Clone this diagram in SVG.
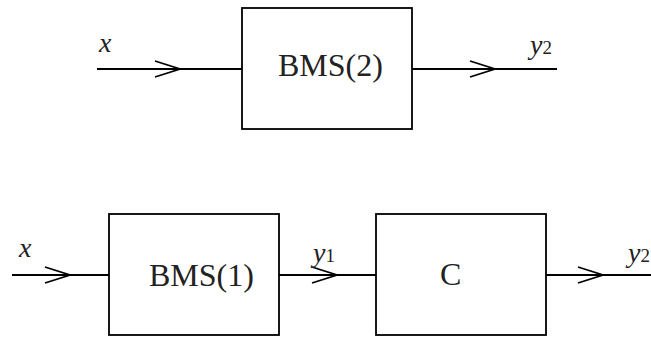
<svg xmlns="http://www.w3.org/2000/svg" xmlns:xlink="http://www.w3.org/1999/xlink" width="651" height="339" viewBox="0 0 651 339">
<style>
.box{fill:#fff;stroke:#000;stroke-width:1.8}
.wire{fill:none;stroke:#000;stroke-width:1.8}
.chev{fill:none;stroke:#000;stroke-width:1.8;stroke-linejoin:miter}
text{font-family:'Liberation Serif','DejaVu Serif',serif;fill:#222}
.lbl{font-size:32px}
.var{font-style:italic;font-size:28px}
.sub{font-style:normal;font-size:19px}
</style>
<defs>
<path id="chev" class="chev" d="M-25,-8 L0,0 L-25,8"/>
</defs>
<rect width="651" height="339" fill="#fff"/>
<g id="connectors">
<path class="wire" d="M97,69 H242"/>
<use xlink:href="#chev" transform="translate(180,69)"/>
<path class="wire" d="M412,69 H557"/>
<use xlink:href="#chev" transform="translate(495,69)"/>
<path class="wire" d="M12,275 H109"/>
<use xlink:href="#chev" transform="translate(70,275)"/>
<path class="wire" d="M279,275 H376"/>
<use xlink:href="#chev" transform="translate(337,275)"/>
<path class="wire" d="M546,275 H651"/>
<use xlink:href="#chev" transform="translate(603,275)"/>
</g>
<g id="bms2">
<rect class="box" x="242" y="8" width="170" height="121"/>
<text class="lbl" x="278" y="76">BMS(2)</text>
</g>
<g id="bms1">
<rect class="box" x="109" y="214" width="170" height="121"/>
<text class="lbl" x="149" y="286">BMS(1)</text>
</g>
<g id="c">
<rect class="box" x="376" y="214" width="170" height="121"/>
<text class="lbl" x="440" y="285">C</text>
</g>
<g id="labels">
<text class="var" x="99" y="52">x</text>
<text class="var" x="19" y="257">x</text>
<text class="var" x="530" y="54">y<tspan class="sub">2</tspan></text>
<text class="var" x="313" y="262">y<tspan class="sub">1</tspan></text>
<text class="var" x="628" y="262">y<tspan class="sub">2</tspan></text>
</g>
</svg>
